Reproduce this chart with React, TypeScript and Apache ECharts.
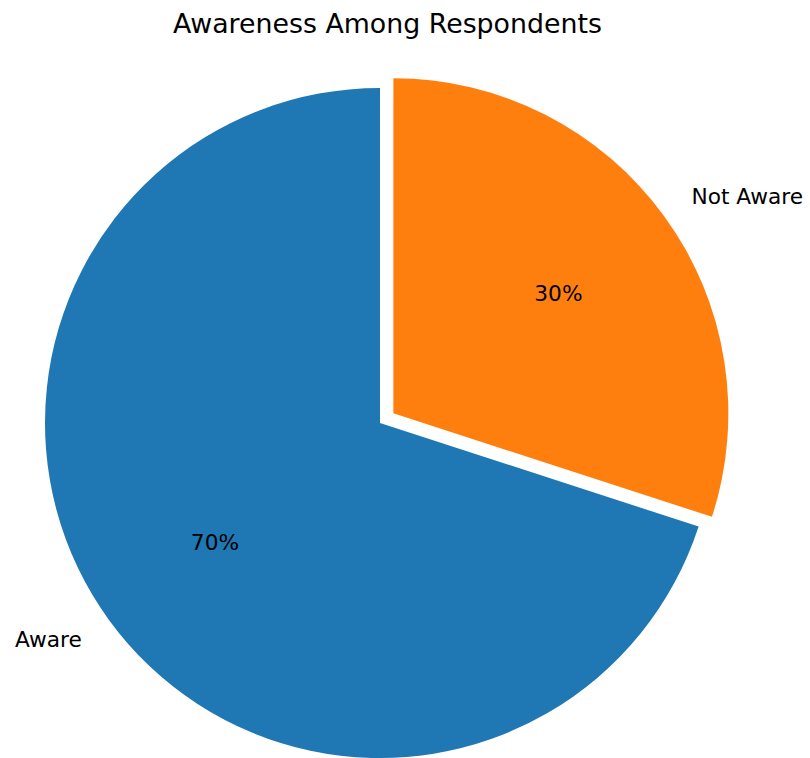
import React, { useEffect, useRef } from "react";
import * as echarts from "echarts";

const categories = ["Aware", "Not Aware"];
const values = [70, 30];
const colors = ["#1f77b4", "#ff7f0e"];
const exploded = [false, true];
const titleText = "Awareness Among Respondents";

export default function App() {
  const ref = useRef<HTMLDivElement>(null);
  useEffect(() => {
    if (!ref.current) return;
    const chart = echarts.init(ref.current, null, { renderer: "svg" });
    const font = "DejaVu Sans";
    const R = 335;
    const center = [380, 423];
    const offset = 16.5;
    const mainData = categories.map((c, i) => ({
      name: c,
      value: values[i],
      selected: exploded[i],
      itemStyle: { color: colors[i] },
      select: { itemStyle: { color: colors[i] } },
    }));
    const overlayData = categories.map((c, i) => ({
      name: c,
      value: values[i],
      selected: exploded[i],
      itemStyle: { color: "rgba(0,0,0,0)" },
      select: { itemStyle: { color: "rgba(0,0,0,0)" } },
    }));
    const total = values.reduce((a, b) => a + b, 0);
    chart.setOption({
      animation: false,
      title: {
        text: titleText,
        left: 168,
        top: 5,
        textStyle: { fontFamily: font, fontSize: 26.8, fontWeight: "normal", color: "#000" },
      },
      series: [
        {
          type: "pie",
          center,
          radius: [0, R],
          startAngle: 90,
          clockwise: false,
          selectedMode: "single",
          selectedOffset: offset,
          avoidLabelOverlap: false,
          silent: true,
          data: mainData,
          emphasis: { disabled: true },
          label: {
            show: true,
            position: "outside",
            formatter: "{b}",
            fontFamily: font,
            fontSize: 21.7,
            color: "#000",
            distanceToLabelLine: 0,
          },
          labelLine: { show: false, length: R * 0.1, length2: 0 },
        },
        {
          type: "pie",
          center,
          radius: [0, R * 1.2],
          startAngle: 90,
          clockwise: false,
          selectedMode: "single",
          selectedOffset: offset,
          avoidLabelOverlap: false,
          silent: true,
          data: overlayData,
          emphasis: { disabled: true },
          label: {
            show: true,
            position: "inside",
            formatter: (p: any) => `${Math.round((p.value / total) * 100)}%`,
            fontFamily: font,
            fontSize: 21.7,
            color: "#000",
          },
          labelLine: { show: false },
        },
      ],
    });
    return () => chart.dispose();
  }, []);
  return (
    <div
      ref={ref}
      style={{ position: "fixed", left: 0, top: 0, width: 810, height: 758, background: "#fff" }}
    />
  );
}
